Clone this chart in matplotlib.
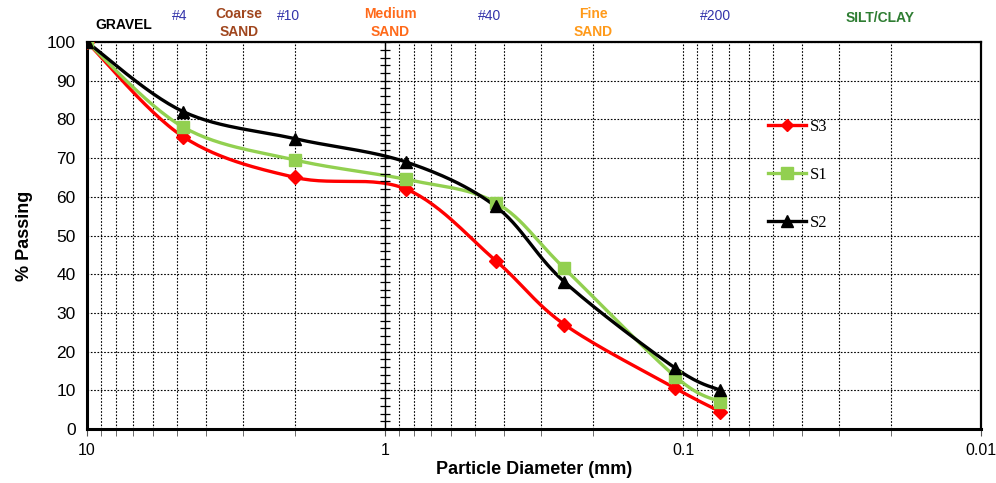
import numpy as np
import matplotlib
matplotlib.use('Agg')
import matplotlib.pyplot as plt
from matplotlib.ticker import FixedLocator, MultipleLocator, NullFormatter, FixedFormatter
from matplotlib.lines import Line2D

plt.rcParams['font.family'] = ['Liberation Sans', 'DejaVu Sans']

# ─── Data ────────────────────────────────────────────────────────────────────
diam = [10.0, 4.75, 2.0, 0.85, 0.425, 0.25, 0.106, 0.075]
s3 = [100, 75.5, 65.0, 62.0, 43.5, 27.0, 10.5, 4.5]
s1 = [100, 78.0, 69.5, 64.5, 58.5, 41.5, 13.5, 7.0]
s2 = [100, 82.0, 75.0, 69.0, 57.5, 38.0, 15.7, 10.0]

series = [
    ('S3', s3, 'red', 'D', 7),
    ('S1', s1, '#92D050', 's', 9),
    ('S2', s2, 'black', '^', 9),
]

# header labels: x position (mm), text, colour, height above plot (axes frac)
header = [
    (7.5, 'GRAVEL', 'black', 0.044),
    (4.87, '#4', '#3333AA', 0.067),
    (3.09, 'Coarse\nSAND', '#A0461E', 0.049),
    (2.10, '#10', '#3333AA', 0.067),
    (0.96, 'Medium\nSAND', '#FF6A1A', 0.049),
    (0.445, '#40', '#3333AA', 0.067),
    (0.20, 'Fine\nSAND', '#FF9A1A', 0.049),
    (0.078, '#200', '#3333AA', 0.067),
    (0.0218, 'SILT/CLAY', '#2E7D32', 0.062),
]


def smooth(xs, ys, n=30):
    """Excel-like smoothed line (Catmull-Rom Bezier) in log-x space."""
    u = np.log10(xs)
    v = np.asarray(ys, float)
    P = np.column_stack([u, v])
    P = np.vstack([P[0], P, P[-1]])
    out = []
    t = np.linspace(0, 1, n)[:, None]
    for i in range(1, len(P) - 2):
        p0, p1, p2, p3 = P[i - 1], P[i], P[i + 1], P[i + 2]
        c1 = p1 + (p2 - p0) / 6
        c2 = p2 - (p3 - p1) / 6
        b = ((1 - t) ** 3) * p1 + 3 * ((1 - t) ** 2) * t * c1 + 3 * (1 - t) * t ** 2 * c2 + t ** 3 * p2
        out.append(b)
    out = np.vstack(out)
    return 10 ** out[:, 0], out[:, 1]


fig = plt.figure(figsize=(9.96, 4.83), dpi=100)
ax = fig.add_axes([0.0873, 0.1118, 0.8977, 0.8012])

ax.set_xscale('log')
ax.set_xlim(10, 0.01)
ax.set_ylim(0, 100)

handles = []
for name, vals, col, mk, ms in series:
    sx, sy = smooth(diam, vals)
    ax.plot(sx, sy, color=col, lw=2.4, zorder=3)
    ax.plot(diam, vals, linestyle='none', marker=mk, color=col, ms=ms, zorder=4)
    handles.append(Line2D([], [], color=col, lw=2.4, marker=mk, ms=ms - 1, label=name))

# ticks / grid
ax.xaxis.set_major_locator(FixedLocator([10, 1, 0.1, 0.01]))
ax.xaxis.set_major_formatter(FixedFormatter(['10', '1', '0.1', '0.01']))
minor = [m * 10.0 ** e for e in (-2, -1, 0) for m in range(2, 10)]
ax.xaxis.set_minor_locator(FixedLocator(minor))
ax.xaxis.set_minor_formatter(NullFormatter())
ax.yaxis.set_major_locator(MultipleLocator(10))
ax.tick_params(axis='x', which='major', labelsize=11.5, length=5, pad=5, color='#555555')
ax.tick_params(axis='x', which='minor', length=5, color='#555555')
ax.tick_params(axis='y', which='major', labelsize=12.5, length=0, pad=8)
ax.grid(True, which='major', axis='y', color='black', ls=(0, (1.5, 1.5)), lw=0.8)
ax.grid(True, which='both', axis='x', color='black', ls=(0, (1.5, 1.5)), lw=0.8)
for s in ax.spines.values():
    s.set_linewidth(1.6)
ax.spines['bottom'].set_linewidth(2.2)
ax.spines['left'].set_linewidth(2.2)

# secondary axis line at 1 mm with ticks
ax2 = ax.twinx()
ax2.set_ylim(0, 100)
for k in ('top', 'bottom', 'left'):
    ax2.spines[k].set_visible(False)
ax2.spines['right'].set_position(('data', 1))
ax2.spines['right'].set_linewidth(1.0)
ax2.yaxis.set_major_locator(MultipleLocator(10))
ax2.yaxis.set_minor_locator(MultipleLocator(2))
ax2.tick_params(axis='y', which='both', direction='inout', length=7, width=0.9, labelright=False)

ax.set_xlabel('Particle Diameter (mm)', fontsize=13, fontweight='bold', labelpad=2)
ax.set_ylabel('% Passing', fontsize=13, fontweight='bold', labelpad=10)

for xv, txt, col, yy in header:
    ax.text(xv, 1 + yy, txt, transform=ax.get_xaxis_transform(), color=col,
            fontsize=10, fontweight='bold' if not txt.startswith('#') else 'normal',
            ha='center', va='center', linespacing=1.3)

ax.legend(handles=handles, loc='upper left', bbox_to_anchor=(0.745, 0.84),
          frameon=False, prop={'family': 'Liberation Serif', 'size': 12},
          labelspacing=1.92, handlelength=2.3, handletextpad=0.2)

fig.savefig('out.png', dpi=100, facecolor='white')
